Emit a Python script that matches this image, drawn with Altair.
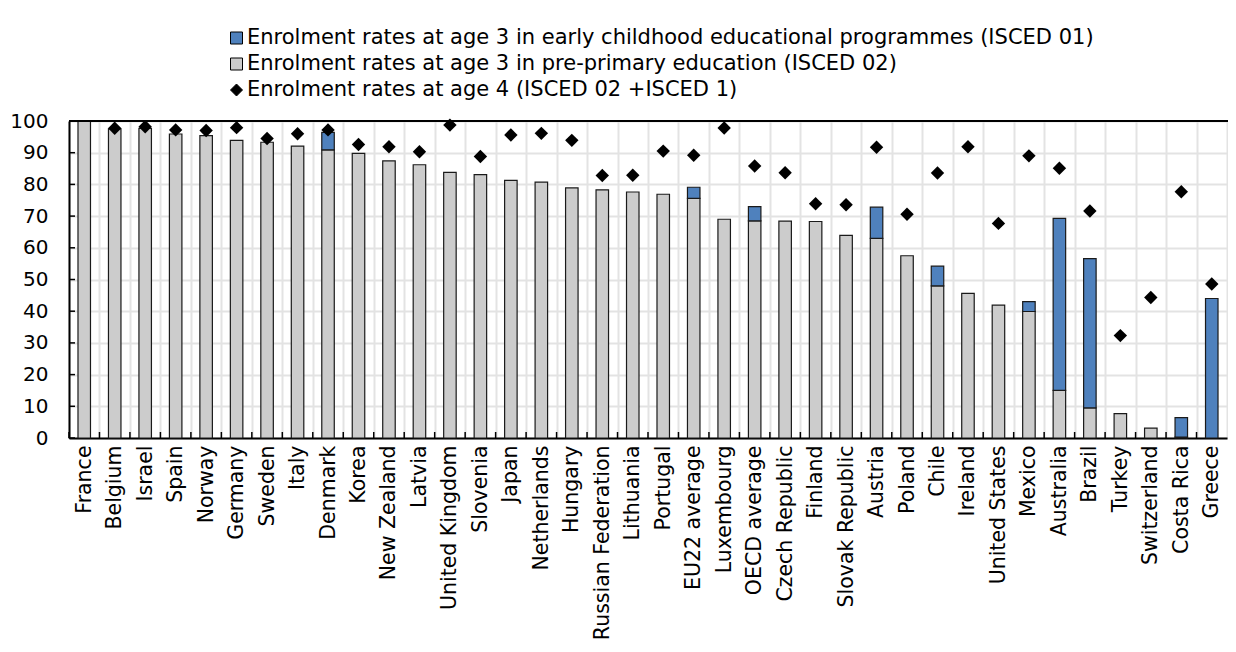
import altair as alt
import pandas as pd

countries = ["France", "Belgium", "Israel", "Spain", "Norway", "Germany", "Sweden", "Italy",
             "Denmark", "Korea", "New Zealand", "Latvia", "United Kingdom", "Slovenia", "Japan",
             "Netherlands", "Hungary", "Russian Federation", "Lithuania", "Portugal",
             "EU22 average", "Luxembourg", "OECD average", "Czech Republic", "Finland",
             "Slovak Republic", "Austria", "Poland", "Chile", "Ireland", "United States",
             "Mexico", "Australia", "Brazil", "Turkey", "Switzerland", "Costa Rica", "Greece"]

isced02 = [100, 97.5, 97.7, 95.9, 95.4, 93.9, 93.3, 92.1, 90.9, 89.8, 87.4, 86.2, 83.8, 83.1,
           81.3, 80.7, 78.9, 78.3, 77.6, 76.9, 75.6, 69.0, 68.5, 68.4, 68.3, 63.9, 63.0, 57.5,
           48.0, 45.6, 41.9, 39.9, 15.0, 9.5, 7.7, 3.1, 0.3, 0]

isced01 = [0, 0, 0, 0, 0, 0, 0, 0, 5.5, 0, 0, 0, 0, 0, 0, 0, 0, 0, 0, 0, 3.5, 0, 4.5, 0, 0,
           0, 9.8, 0, 6.2, 0, 0, 3.1, 54.3, 47.1, 0, 0, 6.1, 44.0]

age4 = [None, 97.7, 98.2, 97.2, 97.0, 97.9, 94.5, 96.0, 97.2, 92.6, 91.9, 90.3, 98.7, 88.8,
        95.6, 96.1, 93.9, 82.8, 82.9, 90.5, 89.2, 97.8, 85.8, 83.7, 73.9, 73.6, 91.7, 70.6,
        83.6, 91.9, 67.7, 89.0, 85.1, 71.6, 32.3, 44.3, 77.7, 48.6]

y_ticks = [0, 10, 20, 30, 40, 50, 60, 70, 80, 90, 100]

S1 = "Enrolment rates at age 3 in early childhood educational programmes (ISCED 01)"
S2 = "Enrolment rates at age 3 in pre-primary education (ISCED 02)"
S3 = "Enrolment rates at age 4 (ISCED 02 +ISCED 1)"
series_domain = [S1, S2, S3]

FONT = "DejaVu Sans"
VIEW_W, H = 1159, 317      # visible plot area (chart is cut at the right edge)
RANGE_W = 1158             # full band range

rows = []
for c, g, b in zip(countries, isced02, isced01):
    if g > 0:
        rows.append({"country": c, "series": S2, "y0": 0, "y1": g})
    if b > 0:
        rows.append({"country": c, "series": S1, "y0": g, "y1": g + b})
bars_df = pd.DataFrame(rows)

pts_df = pd.DataFrame({"country": countries, "value": age4, "series": S3}).dropna()
cat_df = pd.DataFrame({"country": countries})
yt_df = pd.DataFrame({"v": y_ticks})

x_scale = alt.Scale(domain=countries, range=[0, RANGE_W], paddingInner=0, paddingOuter=0)
x_axis = alt.Axis(title=None, labelAngle=-90, labelFontSize=20.5, labelFont=FONT,
                  labelColor="black", labelPadding=7, ticks=False, grid=True,
                  tickBand="extent", gridColor="#e3e3e3", gridWidth=2,
                  domainColor="black", domainWidth=2, labelLimit=0)

y_scale = alt.Scale(domain=[0, 100], nice=False, zero=True)
y_axis = alt.Axis(title=None, values=y_ticks, labelFontSize=20, labelFont=FONT,
                  labelColor="black", labelPadding=21, ticks=False, grid=True,
                  gridColor="#e3e3e3", gridWidth=2, domainColor="black", domainWidth=2,
                  labelOverlap=False)

legend_cfg = dict(title=None, orient="none", legendX=157, legendY=-93.5,
                  labelFontSize=21, labelFont=FONT, labelColor="black",
                  labelLimit=2000, symbolSize=144, symbolStrokeColor="black",
                  symbolStrokeWidth=1, rowPadding=4, labelOffset=0)

color_enc = alt.Color("series:N",
                      scale=alt.Scale(domain=series_domain,
                                      range=["#4F81BD", "#CCCCCC", "#000000"]),
                      legend=alt.Legend(**legend_cfg))
shape_enc = alt.Shape("series:N",
                      scale=alt.Scale(domain=series_domain,
                                      range=["square", "square", "diamond"]),
                      legend=alt.Legend(**legend_cfg))

bars = alt.Chart(bars_df).mark_bar(size=12.5, stroke="#1a1a1a", strokeWidth=1.2).encode(
    x=alt.X("country:N", sort=countries, scale=x_scale, axis=x_axis),
    y=alt.Y("y0:Q", scale=y_scale, axis=y_axis),
    y2="y1:Q",
    color=color_enc,
)

points = alt.Chart(pts_df).mark_point(filled=True, size=180, opacity=1).encode(
    x=alt.X("country:N", sort=countries, scale=x_scale, axis=x_axis),
    y=alt.Y("value:Q", scale=y_scale, axis=y_axis),
    color=color_enc,
    shape=shape_enc,
)

xticks = alt.Chart(cat_df).mark_rule(color="black", strokeWidth=1.5).encode(
    x=alt.X("country:N", sort=countries, scale=x_scale, axis=x_axis, bandPosition=0),
    y=alt.value(H - 6),
    y2=alt.value(H),
)

yticks = alt.Chart(yt_df).mark_rule(color="black", strokeWidth=1.5).encode(
    y=alt.Y("v:Q", scale=y_scale, axis=y_axis),
    x=alt.value(0),
    x2=alt.value(6),
)

top_line = alt.Chart(cat_df).mark_rule(color="black", strokeWidth=2).encode(
    y=alt.value(0),
    x=alt.value(0),
    x2=alt.value(VIEW_W),
)

chart = alt.layer(bars, xticks, yticks, points, top_line).properties(
    width=VIEW_W, height=H,
    autosize=alt.AutoSizeParams(type="none"),
    padding={"left": 61, "top": 113, "right": 0, "bottom": 205},
).configure_view(strokeWidth=0).configure(font=FONT)

chart.save("out.html", embed_options={"renderer": "svg", "actions": False})
